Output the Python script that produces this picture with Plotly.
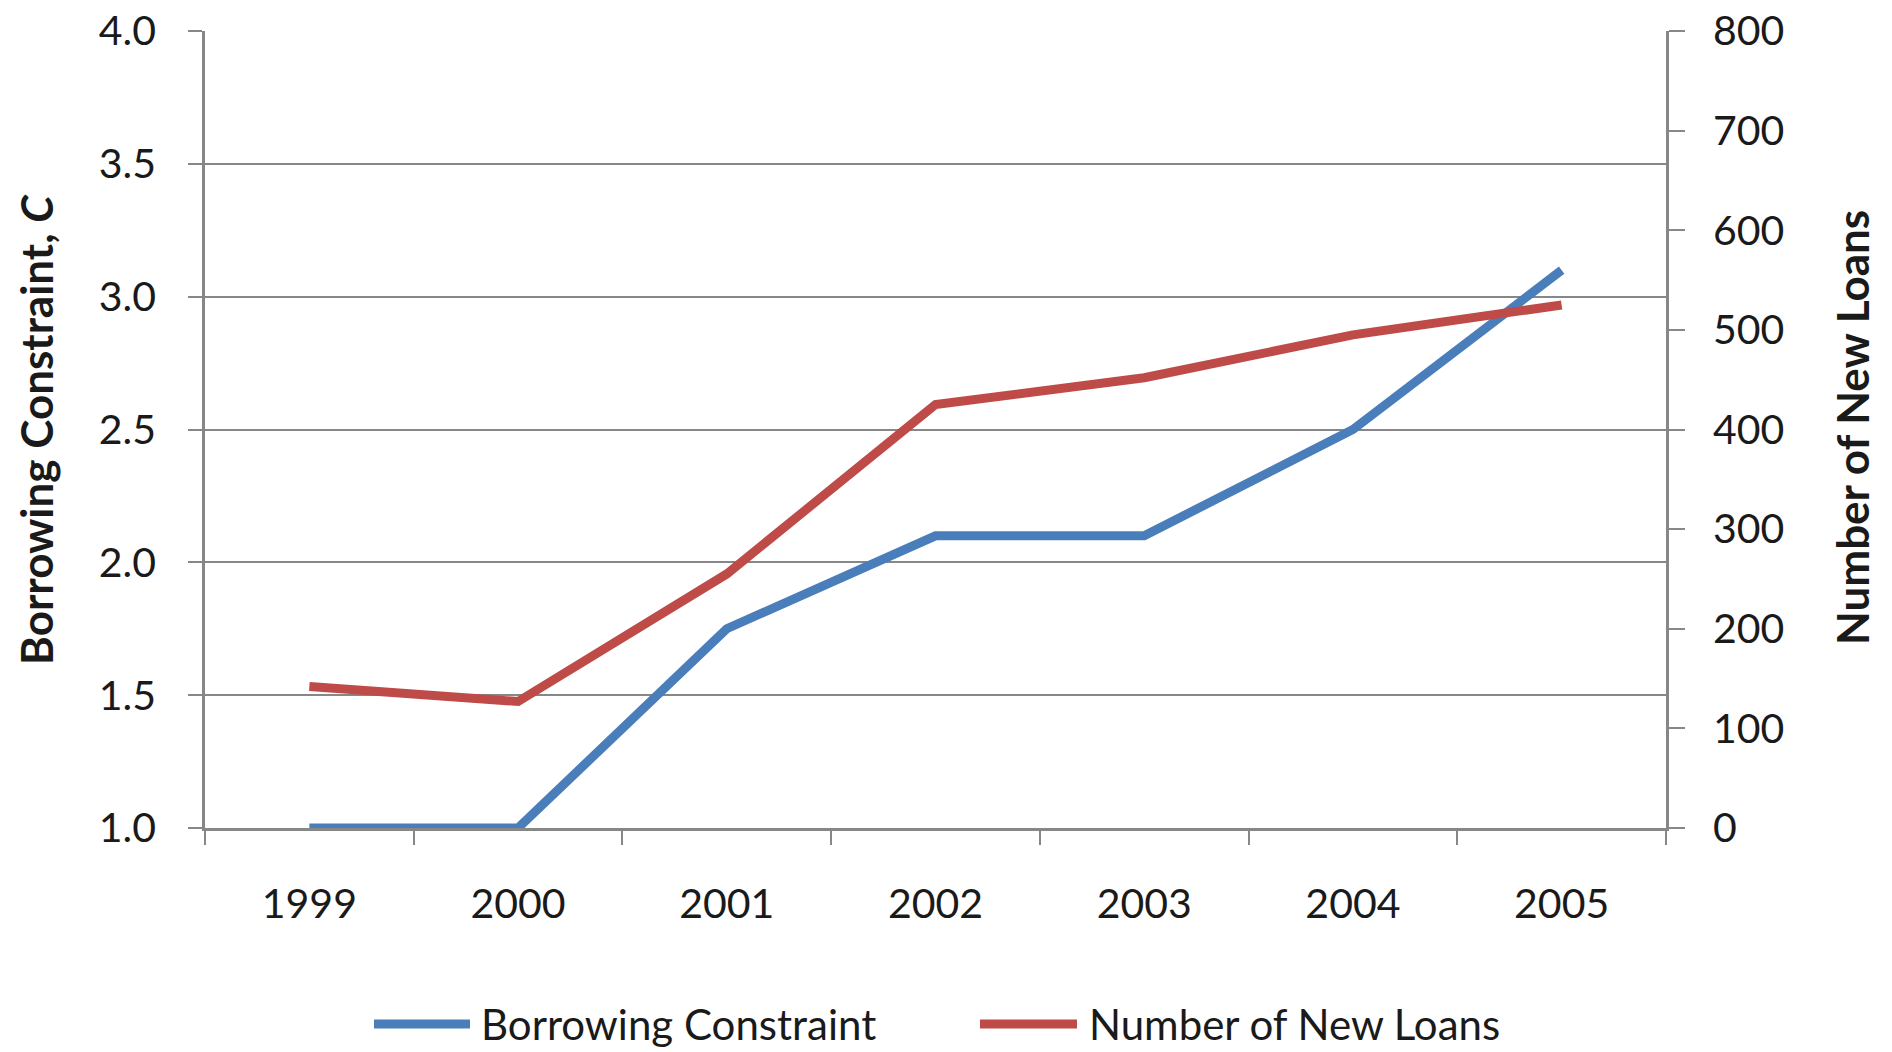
import plotly.graph_objects as go

# Data
years = ["1999", "2000", "2001", "2002", "2003", "2004", "2005"]
borrowing_constraint = [1.0, 1.0, 1.75, 2.1, 2.1, 2.5, 3.1]
new_loans = [142, 127, 255, 425, 452, 495, 525]

BLUE = "#4A7EBB"
RED = "#BE4B48"
GRID = "#878787"
TEXT = "#1a1a1a"
FONT = "Lato"

W, H = 1892, 1052
L, R, T, B = 205, 226, 31, 224
PW, PH = W - L - R, H - T - B


def px_x(x):
    return (x - L) / PW


def px_y(y):
    return (H - B - y) / PH


fig = go.Figure()
fig.add_trace(go.Scatter(
    x=years, y=borrowing_constraint, mode="lines", name="Borrowing Constraint",
    line=dict(color=BLUE, width=9), yaxis="y", showlegend=False,
))
fig.add_trace(go.Scatter(
    x=years, y=new_loans, mode="lines", name="Number of New Loans",
    line=dict(color=RED, width=9), yaxis="y2", showlegend=False,
))

axis_font = dict(family=FONT, size=41, color=TEXT)

fig.update_layout(
    width=W, height=H,
    margin=dict(l=L, r=R, t=T, b=B, pad=0, autoexpand=False),
    paper_bgcolor="white", plot_bgcolor="white",
    font=dict(family=FONT, color=TEXT),
    xaxis=dict(
        type="category", range=[-0.5, 6.5], automargin=False,
        showline=True, linecolor=GRID, linewidth=2.5,
        ticks="outside", tickson="boundaries", ticklen=14, tickwidth=2, tickcolor=GRID,
        ticklabelstandoff=38, tickfont=axis_font, showgrid=False, zeroline=False,
    ),
    yaxis=dict(
        range=[1, 4], dtick=0.5, tick0=1, tickformat=".1f", automargin=False,
        showline=True, linecolor=GRID, linewidth=2.5,
        ticks="outside", ticklen=14, tickwidth=2, tickcolor=GRID,
        ticklabelstandoff=24, tickfont=axis_font,
        showgrid=True, gridcolor=GRID, gridwidth=2, zeroline=False,
    ),
    yaxis2=dict(
        range=[0, 800], dtick=100, tick0=0, overlaying="y", side="right",
        automargin=False,
        showline=True, linecolor=GRID, linewidth=2.5,
        ticks="outside", ticklen=16, tickwidth=2, tickcolor=GRID,
        ticklabelstandoff=20, tickfont=axis_font,
        showgrid=False, zeroline=False,
    ),
)

title_font = dict(family=FONT, size=44, color=TEXT)
fig.add_annotation(
    text="<b>Borrowing Constraint, <i>C</i></b>", textangle=-90,
    xref="paper", yref="paper", x=px_x(36), y=px_y(430),
    xanchor="center", yanchor="middle", showarrow=False, font=title_font,
)
fig.add_annotation(
    text="<b>Number of New Loans</b>", textangle=-90,
    xref="paper", yref="paper", x=px_x(1852), y=px_y(428),
    xanchor="center", yanchor="middle", showarrow=False, font=title_font,
)

# Legend drawn below the plot
legend_font = dict(family=FONT, size=42, color=TEXT)
legend_y = 1024
for (x0, x1, tx, label, color) in [
    (374, 470, 480, "Borrowing Constraint", BLUE),
    (980, 1077, 1088, "Number of New Loans", RED),
]:
    fig.add_shape(
        type="line", xref="paper", yref="paper",
        x0=px_x(x0), x1=px_x(x1), y0=px_y(legend_y), y1=px_y(legend_y),
        line=dict(color=color, width=9),
    )
    fig.add_annotation(
        text=label, xref="paper", yref="paper", x=px_x(tx), y=px_y(legend_y),
        xanchor="left", yanchor="middle", showarrow=False, font=legend_font,
        borderpad=0,
    )

fig.write_html("out.html")
